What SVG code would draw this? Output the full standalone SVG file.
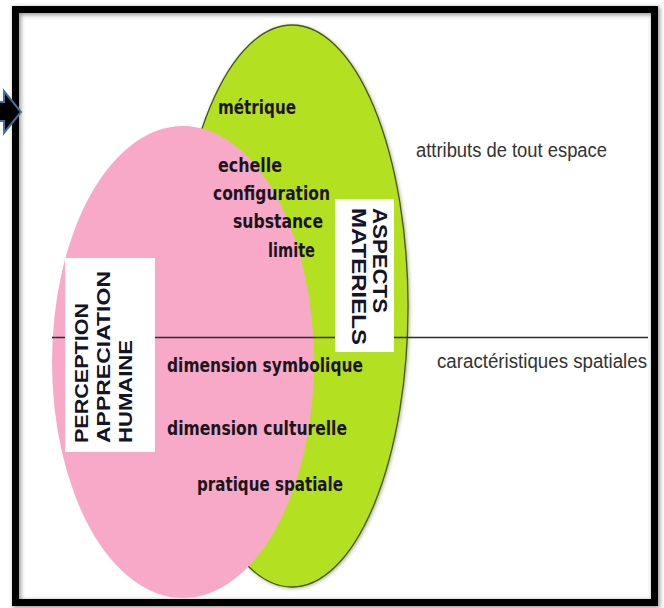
<svg xmlns="http://www.w3.org/2000/svg" width="664" height="608" viewBox="0 0 664 608">
  <defs>
    <filter id="soft" x="-5%" y="-5%" width="110%" height="110%">
      <feGaussianBlur stdDeviation="2"/>
    </filter>
    <style>
      .lbl { font-family: "DejaVu Sans", "Liberation Sans", sans-serif; font-weight: bold; font-size: 19px; fill: #1c141c; }
      .side { font-family: "Liberation Sans", Arial, sans-serif; font-size: 19.5px; fill: #333333; }
      .cap { font-family: "Liberation Sans", Arial, sans-serif; font-weight: bold; fill: #141428; }
      .box { fill: #ffffff; }
    </style>
  </defs>
  <rect x="0" y="0" width="664" height="608" fill="#ffffff"/>

  <!-- frame shadow -->
  <rect x="17" y="11" width="639" height="593" fill="none" stroke="#9a9a9a" stroke-width="8" filter="url(#soft)"/>

  <g id="aspects-materiels-ellipse">
    <ellipse cx="293" cy="307" rx="116" ry="281" fill="#4a5a18" filter="url(#soft)" opacity="0.6"/>
    <ellipse cx="292" cy="306" rx="116" ry="281" fill="#b3e021" stroke="#46561a" stroke-width="1.3"/>
  </g>

  <g id="perception-ellipse">
    <ellipse cx="183" cy="362" rx="131" ry="236" fill="#f8a9c8"/>
  </g>

  <g id="connectors">
    <line x1="52" y1="337.5" x2="648" y2="337.5" stroke="#2e2e2e" stroke-width="1.3"/>
  </g>

  <g id="perception-box">
    <rect class="box" x="65" y="258" width="90" height="194"/>
    <text class="cap" font-size="19" transform="translate(88,443) rotate(-90)" textLength="140" lengthAdjust="spacingAndGlyphs">PERCEPTION</text>
    <text class="cap" font-size="19" transform="translate(110,443) rotate(-90)" textLength="172" lengthAdjust="spacingAndGlyphs">APPRECIATION</text>
    <text class="cap" font-size="19" transform="translate(132,443) rotate(-90)" textLength="103" lengthAdjust="spacingAndGlyphs">HUMAINE</text>
  </g>

  <g id="aspects-box">
    <rect class="box" x="335" y="199" width="59" height="153"/>
    <text class="cap" font-size="20.5" transform="translate(373,208) rotate(90)" textLength="105" lengthAdjust="spacingAndGlyphs">ASPECTS</text>
    <text class="cap" font-size="20.5" transform="translate(352,208) rotate(90)" textLength="137" lengthAdjust="spacingAndGlyphs">MATERIELS</text>
  </g>

  <g id="labels-materiels">
    <text class="lbl" x="218" y="114" textLength="78" lengthAdjust="spacingAndGlyphs">métrique</text>
    <text class="lbl" x="218" y="172" textLength="64" lengthAdjust="spacingAndGlyphs">echelle</text>
    <text class="lbl" x="213" y="200" textLength="117" lengthAdjust="spacingAndGlyphs">configuration</text>
    <text class="lbl" x="233" y="228" textLength="90" lengthAdjust="spacingAndGlyphs">substance</text>
    <text class="lbl" x="268" y="257" textLength="47" lengthAdjust="spacingAndGlyphs">limite</text>
  </g>

  <g id="labels-perception">
    <text class="lbl" x="167" y="372" textLength="196" lengthAdjust="spacingAndGlyphs">dimension symbolique</text>
    <text class="lbl" x="167" y="435" textLength="180" lengthAdjust="spacingAndGlyphs">dimension culturelle</text>
    <text class="lbl" x="197" y="491" textLength="146" lengthAdjust="spacingAndGlyphs">pratique spatiale</text>
  </g>

  <g id="side-labels">
    <text class="side" x="416" y="157" textLength="191" lengthAdjust="spacingAndGlyphs">attributs de tout espace</text>
    <text class="side" x="437" y="368" textLength="210" lengthAdjust="spacingAndGlyphs">caractéristiques spatiales</text>
  </g>

  <g id="frame">
    <rect x="15.5" y="9.5" width="639" height="593" fill="none" stroke="#000000" stroke-width="7"/>
  </g>

  <g id="arrow">
    <polygon points="-10,102 4,102 4,91 21,112 4,133 4,121 -10,121" fill="#000000" stroke="#41719c" stroke-width="2" stroke-linejoin="miter"/>
  </g>
</svg>
